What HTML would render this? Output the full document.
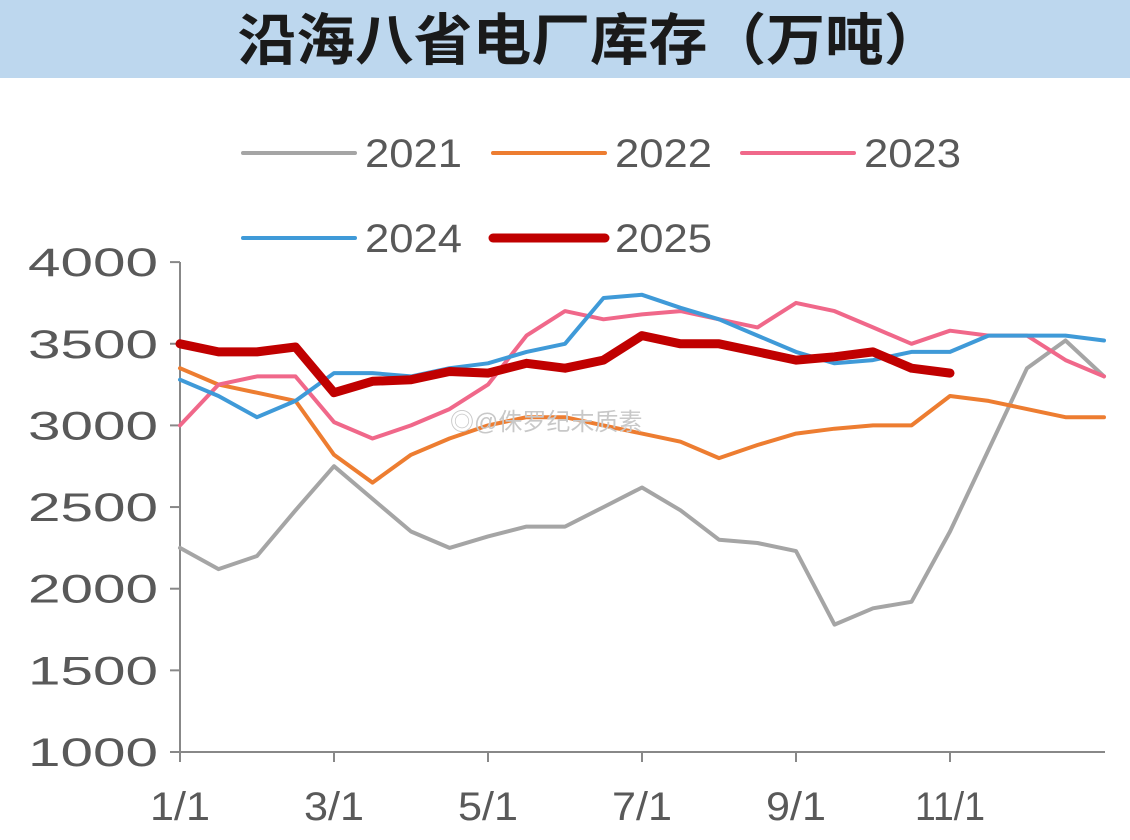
<!DOCTYPE html>
<html><head><meta charset="utf-8"><style>
body{margin:0;width:1130px;height:835px;background:#fff;overflow:hidden;font-family:"Liberation Sans","Noto Sans CJK SC",sans-serif}
</style></head><body>
<svg id="chart" width="1130" height="835" xmlns="http://www.w3.org/2000/svg">
<rect x="0" y="0" width="1130" height="78" fill="#bdd7ee"/>
<text x="590" y="60" text-anchor="middle" font-size="56" font-weight="bold" fill="#1a1a1a" textLength="705" lengthAdjust="spacingAndGlyphs" font-family="'Liberation Sans','Noto Sans CJK SC',sans-serif">沿海八省电厂库存（万吨）</text>
<g id="legend"></g>
<g id="axes"></g>
<g id="series"></g>
<text x="450" y="430" font-size="24" fill="#c8c8c8" font-family="'Liberation Sans','Noto Sans CJK SC',sans-serif">◎@侏罗纪末质素</text>
</svg>
<script>
const months = [0,0.5,1,1.5,2,2.5,3,3.5,4,4.5,5,5.5,6,6.5,7,7.5,8,8.5,9,9.5,10,10.5,11,11.5,12];
const s2021 = [2250,2120,2200,2480,2750,2550,2350,2250,2320,2380,2380,2500,2620,2480,2300,2280,2230,1780,1880,1920,2350,2850,3350,3520,3300];
const s2022 = [3350,3250,3200,3150,2820,2650,2820,2920,3000,3050,3050,3000,2950,2900,2800,2880,2950,2980,3000,3000,3180,3150,3100,3050,3050];
const s2023 = [3000,3250,3300,3300,3020,2920,3000,3100,3250,3550,3700,3650,3680,3700,3650,3600,3750,3700,3600,3500,3580,3550,3550,3400,3300];
const s2024 = [3280,3180,3050,3150,3320,3320,3300,3350,3380,3450,3500,3780,3800,3720,3650,3550,3450,3380,3400,3450,3450,3550,3550,3550,3520];
const s2025 = [3500,3450,3450,3480,3200,3270,3280,3330,3320,3380,3350,3400,3550,3500,3500,3450,3400,3420,3450,3350,3320];
const yTicks = [1000,1500,2000,2500,3000,3500,4000];
const xTickMonths = [0,2,4,6,8,10];
const xTickLabels = ["1/1","3/1","5/1","7/1","9/1","11/1"];
const seriesNames = ["2021","2022","2023","2024","2025"];
const seriesData = [s2021,s2022,s2023,s2024,s2025];
const seriesColors = ["#a5a5a5","#ed7d31","#f0688a","#3f9ad8","#c00000"];
const seriesWidths = [4,4,4,4,9];

const NS="http://www.w3.org/2000/svg";
const X=m=>180+m*77;
const Y=v=>752-(v-1000)*0.1633;
function mk(tag,attrs,parent){const e=document.createElementNS(NS,tag);for(const k in attrs)e.setAttribute(k,attrs[k]);parent.appendChild(e);return e;}
const axes=document.getElementById('axes');
const ax1=mk('line',{x1:180,y1:262,x2:180,y2:752,stroke:'#888','stroke-width':2},axes);


const ax2=mk('line',{x1:180,y1:752,x2:1105,y2:752,stroke:'#888','stroke-width':2},axes);


yTicks.forEach(v=>{
 const t=mk('line',{x1:170,y1:Y(v),x2:180,y2:Y(v),stroke:'#888','stroke-width':2},axes);
 
 
 const l=mk('text',{x:28,y:Y(v)+14,'font-size':40,fill:'#595959',textLength:130,lengthAdjust:'spacingAndGlyphs'},axes);
 l.textContent=v;
 
 
});
xTickMonths.forEach((m,i)=>{
 const t=mk('line',{x1:X(m),y1:752,x2:X(m),y2:762,stroke:'#888','stroke-width':2},axes);
 
 
 const w=xTickLabels[i].length>3?70:60;
 const l=mk('text',{x:X(m)-w/2,y:820,'font-size':40,fill:'#595959',textLength:w,lengthAdjust:'spacingAndGlyphs'},axes);
 l.textContent=xTickLabels[i];
 
 
});
const sg=document.getElementById('series');
seriesData.forEach((d,i)=>{
 const pts=d.map((v,j)=>X(months[j]).toFixed(1)+','+Y(v).toFixed(1)).join(' ');
 const p=mk('polyline',{points:pts,fill:'none',stroke:seriesColors[i],'stroke-width':seriesWidths[i],'stroke-linejoin':'round','stroke-linecap':'round'},sg);
 
 
});
const lg=document.getElementById('legend');
const legPos=[[243,153],[493,153],[742,153],[243,238],[493,238]];
seriesNames.forEach((n,i)=>{
 const [x,y]=legPos[i];
 const g=mk('g',{},lg);
 
 
 mk('line',{x1:x,y1:y,x2:x+112,y2:y,stroke:seriesColors[i],'stroke-width':seriesWidths[i],'stroke-linecap':'round'},g);
 const t=mk('text',{x:x+122,y:y+14,'font-size':40,fill:'#595959',textLength:97,lengthAdjust:'spacingAndGlyphs'},g);
 t.textContent=n;
});
</script>
</body></html>
